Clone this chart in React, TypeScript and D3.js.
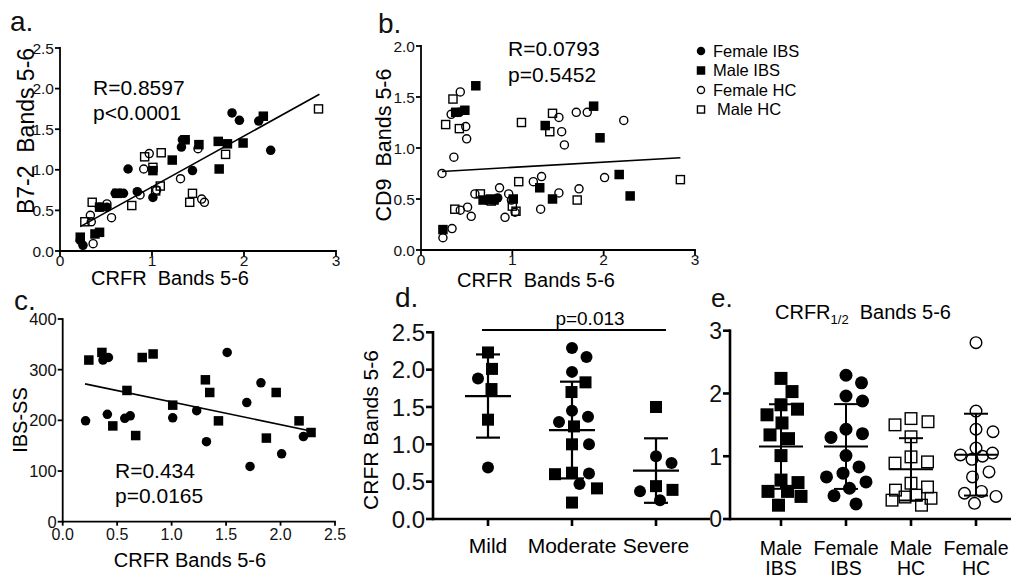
import React from 'react';
import * as d3 from 'd3';

const FONT = "'Liberation Sans', Arial, Helvetica, sans-serif";

type Pt = [number, number];
type Kind = 'fc' | 'fs' | 'oc' | 'os';

// ---- panel a: B7-2 vs CRFR ----
const aFemaleIBS: Pt[] = [[1.87, 1.70], [1.95, 1.61], [2.16, 1.60], [2.29, 1.24], [0.74, 1.01], [1.33, 1.37], [1.36, 1.37], [1.32, 1.28], [1.44, 0.99], [0.84, 0.73], [1.01, 0.66], [0.60, 0.71], [0.65, 0.71], [0.69, 0.71], [0.43, 0.54], [0.51, 0.54], [0.25, 0.07], [0.22, 0.13]];
const aMaleIBS: Pt[] = [[2.21, 1.66], [1.72, 1.35], [1.82, 1.32], [1.99, 1.33], [1.51, 1.31], [1.73, 1.01], [1.22, 1.12], [1.01, 0.99], [1.36, 1.37], [0.62, 0.71], [0.43, 0.23], [0.38, 0.21], [0.22, 0.17], [0.43, 0.54]];
const aFemaleHC: Pt[] = [[1.50, 1.26], [0.97, 1.20], [0.91, 1.01], [1.31, 0.89], [1.54, 0.64], [1.57, 0.60], [0.87, 0.69], [0.56, 0.41], [0.51, 0.58], [0.33, 0.44], [0.34, 0.36], [0.36, 0.09], [1.05, 0.75]];
const aMaleHC: Pt[] = [[2.81, 1.75], [1.80, 1.19], [1.10, 1.21], [0.92, 1.16], [1.01, 1.03], [1.09, 0.80], [1.04, 0.74], [0.78, 0.56], [1.44, 0.71], [1.41, 0.60], [0.35, 0.60], [0.27, 0.36]];
const aFit: Pt[] = [[0.22, 0.30], [2.82, 1.93]];

// ---- panel b: CD9 vs CRFR ----
const bFemaleIBS: Pt[] = [[0.42, 1.35], [0.72, 0.49], [0.84, 0.51]];
const bMaleIBS: Pt[] = [[0.60, 1.61], [0.38, 1.35], [0.48, 1.37], [1.89, 1.41], [1.36, 1.22], [1.96, 1.10], [2.17, 0.74], [2.29, 0.53], [1.30, 0.61], [1.44, 0.50], [1.01, 0.50], [0.68, 0.49], [0.76, 0.50], [0.80, 0.49], [0.24, 0.20]];
const bFemaleHC: Pt[] = [[0.43, 1.55], [0.33, 1.33], [0.49, 1.21], [0.50, 1.09], [0.36, 0.91], [0.23, 0.75], [0.59, 0.55], [0.86, 0.61], [0.96, 0.55], [0.92, 0.32], [0.55, 0.33], [0.51, 0.42], [0.43, 0.39], [0.34, 0.21], [0.24, 0.12], [1.32, 0.72], [1.23, 0.67], [1.31, 0.40], [1.51, 0.56], [1.73, 0.60], [2.01, 0.71], [1.51, 1.30], [1.54, 1.16], [1.57, 1.03], [1.70, 1.35], [1.82, 1.35], [2.22, 1.27], [0.99, 0.49], [1.03, 0.37]];
const bMaleHC: Pt[] = [[0.35, 1.48], [0.27, 1.23], [0.42, 1.19], [1.10, 1.25], [1.44, 1.34], [1.41, 1.16], [1.07, 0.67], [1.71, 0.49], [2.84, 0.69], [0.37, 0.40], [0.65, 0.55], [0.77, 0.48], [1.04, 0.38], [1.00, 0.43]];
const bFit: Pt[] = [[0.23, 0.77], [2.84, 0.905]];

const legendLabels = ['Female IBS', 'Male IBS', 'Female HC', 'Male HC'];
const legendKinds: Kind[] = ['fc', 'fs', 'oc', 'os'];

// ---- panel c: IBS-SS vs CRFR ----
const cMaleIBS: Pt[] = [[0.24, 319], [0.36, 334], [0.73, 324], [0.83, 331], [0.59, 259], [0.46, 189], [0.67, 170], [1.01, 230], [1.31, 280], [1.35, 255], [1.43, 199], [2.17, 199], [2.28, 176], [1.96, 255], [1.87, 165]];
const cFemaleIBS: Pt[] = [[0.21, 199], [0.37, 319], [0.42, 324], [0.41, 212], [0.57, 204], [0.62, 209], [1.01, 205], [1.23, 219], [1.32, 158], [1.51, 334], [1.69, 235], [1.82, 274], [1.72, 109], [2.01, 134], [2.21, 168]];
const cFit: Pt[] = [[0.205, 272], [2.30, 178]];

// ---- panel d: CRFR by severity ----
const dCategories = ['Mild', 'Moderate', 'Severe'];
const dMale = [[2.23, 2.01, 1.74, 1.33], [1.83, 1.70, 1.24, 1.00, 0.60, 0.62, 0.41, 0.22], [1.50, 0.39, 0.44]];
const dFemale = [[1.88, 0.69], [2.29, 2.17, 1.97, 1.45, 1.37, 1.30, 1.00, 0.61, 0.47], [0.84, 0.75, 0.37, 0.25]];
const dYTicks = [0, 0.5, 1, 1.5, 2, 2.5];

// ---- panel e: CRFR1/2 by group ----
const eCategories = [['Male', 'IBS'], ['Female', 'IBS'], ['Male', 'HC'], ['Female', 'HC']];
const eKinds: Kind[] = ['fs', 'fc', 'os', 'oc'];
const eValues = [
  [2.24, 2.03, 1.82, 1.75, 1.66, 1.53, 1.34, 1.28, 1.01, 0.62, 0.58, 0.44, 0.44, 0.36, 0.22],
  [2.29, 2.17, 1.96, 1.88, 1.43, 1.36, 1.30, 1.01, 0.83, 0.73, 0.67, 0.59, 0.49, 0.37, 0.24],
  [1.60, 1.55, 1.50, 1.31, 0.99, 0.91, 0.89, 0.57, 0.51, 0.46, 0.38, 0.35, 0.33, 0.30, 0.22],
  [2.81, 1.72, 1.43, 1.39, 1.13, 1.05, 1.02, 1.00, 0.95, 0.75, 0.67, 0.44, 0.41, 0.36, 0.25],
];
const eYTicks = [0, 1, 2, 3];

const Marker = ({ kind, x, y, s }: { kind: Kind; x: number; y: number; s: number }) => {
  if (kind === 'fc') return <circle cx={x} cy={y} r={s / 2} fill="#000" />;
  if (kind === 'fs') return <rect x={x - s / 2} y={y - s / 2} width={s} height={s} fill="#000" />;
  if (kind === 'oc') return <circle cx={x} cy={y} r={s / 2 - 0.7} fill="none" stroke="#000" strokeWidth={1.4} />;
  return <rect x={x - s / 2 + 0.7} y={y - s / 2 + 0.7} width={s - 1.4} height={s - 1.4} fill="none" stroke="#000" strokeWidth={1.4} />;
};

const YAxis = ({ y, ticks, x0, fmt, fs, len, sw }: any) => {
  const [r0, r1] = y.range();
  return (
    <g>
      <line x1={x0} x2={x0} y1={r0} y2={r1} stroke="#000" strokeWidth={sw} strokeLinecap="square" />
      {ticks.map((t: number) => (
        <g key={t}>
          <line x1={x0 - len} x2={x0} y1={y(t)} y2={y(t)} stroke="#000" strokeWidth={sw} />
          <text x={x0 - len - 1} y={y(t)} dy="0.36em" textAnchor="end" fontSize={fs} fill="#111">{fmt(t)}</text>
        </g>
      ))}
    </g>
  );
};

const XAxis = ({ x, ticks, y0, fmt, fs, len, sw, labelY }: any) => {
  const [r0, r1] = x.range();
  return (
    <g>
      <line x1={r0} x2={r1} y1={y0} y2={y0} stroke="#000" strokeWidth={sw} strokeLinecap="square" />
      {ticks.map((t: number) => (
        <g key={t}>
          <line x1={x(t)} x2={x(t)} y1={y0} y2={y0 + len} stroke="#000" strokeWidth={sw} />
          <text x={x(t)} y={labelY} textAnchor="middle" fontSize={fs} fill="#111">{fmt(t)}</text>
        </g>
      ))}
    </g>
  );
};

const Scatter = ({ x, y, groups, fit, s }: any) => (
  <g>
    {groups.map((g: { pts: Pt[]; kind: Kind }, gi: number) =>
      g.pts.map((p, i) => <Marker key={`${gi}-${i}`} kind={g.kind} x={x(p[0])} y={y(p[1])} s={s} />)
    )}
    <line x1={x(fit[0][0])} y1={y(fit[0][1])} x2={x(fit[1][0])} y2={y(fit[1][1])} stroke="#000" strokeWidth={1.6} />
  </g>
);

// beeswarm with a width limit: if no free spot, take the least crowded one
function swarm(values: number[], y: (v: number) => number, diam: number, maxW: number): number[] {
  const order = values.map((_, i) => i).sort((i, j) => values[j] - values[i]);
  const placed: { x: number; y: number }[] = [];
  const out: number[] = new Array(values.length).fill(0);
  for (const i of order) {
    const py = y(values[i]);
    let best = 0;
    let bestD = -1;
    for (let k = 0; ; k++) {
      const cand = k === 0 ? 0 : (k % 2 ? 1 : -1) * Math.ceil(k / 2) * 0.5;
      if (Math.abs(cand) > maxW) break;
      const dmin = placed.length ? d3.min(placed, (p) => Math.hypot(p.x - cand, p.y - py)) as number : Infinity;
      if (dmin >= diam) { best = cand; bestD = dmin; break; }
      if (dmin > bestD + 0.5) { best = cand; bestD = dmin; }
    }
    placed.push({ x: best, y: py });
    out[i] = best;
  }
  return out;
}

const MeanSD = ({ cx, y, values, half, cap, sw }: any) => {
  const m = d3.mean(values as number[]) as number;
  const sd = d3.deviation(values as number[]) as number;
  return (
    <g stroke="#000" strokeWidth={sw}>
      <line x1={cx - half} x2={cx + half} y1={y(m)} y2={y(m)} />
      <line x1={cx} x2={cx} y1={y(m + sd)} y2={y(m - sd)} />
      <line x1={cx - cap} x2={cx + cap} y1={y(m + sd)} y2={y(m + sd)} />
      <line x1={cx - cap} x2={cx + cap} y1={y(m - sd)} y2={y(m - sd)} />
    </g>
  );
};

const f1 = (v: number) => v.toFixed(1);
const f0 = (v: number) => d3.format('d')(v);

export default function App() {
  // panel a
  const ax = d3.scaleLinear().domain([0, 3]).range([60, 336]);
  const ay = d3.scaleLinear().domain([0, 2.5]).range([251, 48]);
  // panel b
  const bx = d3.scaleLinear().domain([0, 3]).range([421, 695]);
  const by = d3.scaleLinear().domain([0, 2]).range([250, 46]);
  // panel c
  const cx = d3.scaleLinear().domain([0, 2.5]).range([62.7, 335]);
  const cy = d3.scaleLinear().domain([0, 400]).range([521.7, 319]);
  // panel d
  const dx = d3.scalePoint<string>().domain(dCategories).range([446, 698]).padding(0.5);
  const dy = d3.scaleLinear().domain([0, 2.5]).range([519, 332.3]);
  // panel e
  const ex = d3.scalePoint<string>().domain(eCategories.map((c) => c.join(' '))).range([748.5, 1008.5]).padding(0.5);
  const ey = d3.scaleLinear().domain([0, 3]).range([519, 330.7]);

  const dSize = 12;
  const eSize = 13;

  return (
    <div style={{ position: 'absolute', left: 0, top: 0 }}>
      <svg width={1011} height={578} style={{ display: 'block', background: '#fff' }} fontFamily={FONT}>
        {/* ===== a ===== */}
        <text x={10} y={31} fontSize={28} fill="#111">a.</text>
        <Scatter x={ax} y={ay} s={9.5} fit={aFit}
          groups={[{ pts: aFemaleHC, kind: 'oc' }, { pts: aMaleHC, kind: 'os' }, { pts: aFemaleIBS, kind: 'fc' }, { pts: aMaleIBS, kind: 'fs' }]} />
        <YAxis y={ay} ticks={[0, 0.5, 1, 1.5, 2, 2.5]} x0={60} fmt={f1} fs={15.5} len={5} sw={1.8} />
        <XAxis x={ax} ticks={[0, 1, 2, 3]} y0={251} fmt={f0} fs={15.5} len={5} sw={1.8} labelY={266} />
        <text x={93} y={95} fontSize={21}>R=0.8597</text>
        <text x={93} y={120} fontSize={21}>p&lt;0.0001</text>
        <text x={170} y={285} fontSize={20} textAnchor="middle" xmlSpace="preserve">CRFR  Bands 5-6</text>
        <text transform="translate(26,131) rotate(-90)" fontSize={23} textAnchor="middle" dy="0.35em" xmlSpace="preserve">B7-2  Bands 5-6</text>

        {/* ===== b ===== */}
        <text x={378} y={33} fontSize={28} fill="#111">b.</text>
        <Scatter x={bx} y={by} s={9.5} fit={bFit}
          groups={[{ pts: bFemaleHC, kind: 'oc' }, { pts: bMaleHC, kind: 'os' }, { pts: bFemaleIBS, kind: 'fc' }, { pts: bMaleIBS, kind: 'fs' }]} />
        <YAxis y={by} ticks={[0, 0.5, 1, 1.5, 2]} x0={421} fmt={f1} fs={15.5} len={5} sw={1.8} />
        <XAxis x={bx} ticks={[0, 1, 2, 3]} y0={250} fmt={f0} fs={15.5} len={5} sw={1.8} labelY={265} />
        <text x={508} y={56} fontSize={21}>R=0.0793</text>
        <text x={508} y={82} fontSize={21}>p=0.5452</text>
        <text x={536} y={287} fontSize={20} textAnchor="middle" xmlSpace="preserve">CRFR  Bands 5-6</text>
        <text transform="translate(383,145) rotate(-90)" fontSize={21.5} textAnchor="middle" dy="0.35em" xmlSpace="preserve">CD9  Bands 5-6</text>
        {legendLabels.map((l, i) => (
          <g key={l} transform={`translate(701,${51 + i * 19.5})`}>
            <Marker kind={legendKinds[i]} x={0} y={0} s={8.5} />
            <text x={i === 3 ? 16 : 12} y={0} dy="0.36em" fontSize={16.5}>{l}</text>
          </g>
        ))}

        {/* ===== c ===== */}
        <text x={14} y={310} fontSize={28} fill="#111">c.</text>
        <Scatter x={cx} y={cy} s={9.5} fit={cFit}
          groups={[{ pts: cFemaleIBS, kind: 'fc' }, { pts: cMaleIBS, kind: 'fs' }]} />
        <YAxis y={cy} ticks={[0, 100, 200, 300, 400]} x0={62.7} fmt={f0} fs={16.5} len={5} sw={1.8} />
        <XAxis x={cx} ticks={[0, 0.5, 1, 1.5, 2, 2.5]} y0={521.7} fmt={f1} fs={16} len={4} sw={1.8} labelY={540} />
        <text x={115} y={478} fontSize={21}>R=0.434</text>
        <text x={115} y={503} fontSize={21}>p=0.0165</text>
        <text x={190} y={567} fontSize={20} textAnchor="middle">CRFR Bands 5-6</text>
        <text transform="translate(20,420) rotate(-90)" fontSize={20} textAnchor="middle" dy="0.35em">IBS-SS</text>

        {/* ===== d ===== */}
        <text x={395} y={307} fontSize={28} fill="#111">d.</text>
        {dCategories.map((c, ci) => {
          const vals = [...dMale[ci], ...dFemale[ci]];
          const kinds: Kind[] = [...dMale[ci].map(() => 'fs' as Kind), ...dFemale[ci].map(() => 'fc' as Kind)];
          const offs = swarm(vals, dy, dSize * 1.4, 26);
          const px = dx(c) as number;
          return (
            <g key={c}>
              {vals.map((v, i) => <Marker key={i} kind={kinds[i]} x={px + offs[i]} y={dy(v)} s={dSize} />)}
              <MeanSD cx={px} y={dy} values={vals} half={23} cap={12} sw={2.2} />
            </g>
          );
        })}
        <YAxis y={dy} ticks={dYTicks} x0={433} fmt={f1} fs={24} len={7} sw={2.6} />
        <line x1={433} x2={710} y1={519} y2={519} stroke="#000" strokeWidth={2.6} />
        {dCategories.map((c) => (
          <g key={c}>
            <line x1={dx(c)} x2={dx(c)} y1={519} y2={526} stroke="#000" strokeWidth={2.6} />
            <text x={dx(c)} y={553} textAnchor="middle" fontSize={21}>{c}</text>
          </g>
        ))}
        <line x1={(dx('Mild') as number) - 6} x2={(dx('Severe') as number) + 10} y1={dy(2.53)} y2={dy(2.53)} stroke="#000" strokeWidth={2} />
        <text x={590} y={325} textAnchor="middle" fontSize={19}>p=0.013</text>
        <text transform="translate(371,430) rotate(-90)" fontSize={21} textAnchor="middle" dy="0.35em">CRFR Bands 5-6</text>

        {/* ===== e ===== */}
        <text x={711} y={307} fontSize={26} fill="#111">e.</text>
        <text x={775} y={319} fontSize={20}>
          CRFR<tspan fontSize={13} dy={5}>1/2</tspan>
          <tspan dy={-5} xmlSpace="preserve">  Bands 5-6</tspan>
        </text>
        {eCategories.map((c, ci) => {
          const key = c.join(' ');
          const vals = eValues[ci];
          const offs = swarm(vals, ey, eSize * 1.3, 20);
          const px = ex(key) as number;
          return (
            <g key={key}>
              {vals.map((v, i) => <Marker key={i} kind={eKinds[ci]} x={px + offs[i]} y={ey(v)} s={eSize} />)}
              <MeanSD cx={px} y={ey} values={vals} half={22} cap={12} sw={2} />
            </g>
          );
        })}
        <YAxis y={ey} ticks={eYTicks} x0={730} fmt={f0} fs={23} len={7} sw={2.6} />
        <line x1={730} x2={1011} y1={519} y2={519} stroke="#000" strokeWidth={2.6} />
        {eCategories.map((c) => {
          const key = c.join(' ');
          return (
            <g key={key}>
              <line x1={ex(key)} x2={ex(key)} y1={519} y2={526} stroke="#000" strokeWidth={2.6} />
              <text x={ex(key)} y={555} textAnchor="middle" fontSize={19.5}>{c[0]}</text>
              <text x={ex(key)} y={575} textAnchor="middle" fontSize={19.5}>{c[1]}</text>
            </g>
          );
        })}
      </svg>
    </div>
  );
}
